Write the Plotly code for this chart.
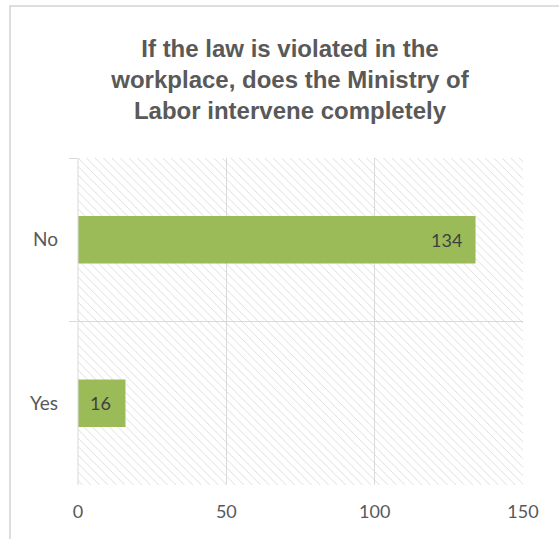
import plotly.graph_objects as go

categories = ["No", "Yes"]
counts = [134, 16]
x_ticks = [0, 50, 100, 150]
x_max = 150
title_text = "<b>If the law is violated in the<br>workplace, does the Ministry of<br>Labor intervene completely</b>"

W, H = 559, 539
L, R, T, B = 78, 523, 158, 485

def px_x(p):
    return (p - L) / (R - L)

def px_y(p):
    return (B - p) / (B - T)

tick_font = dict(family="Lato, Open Sans, sans-serif", size=18, color="#595959")
cat_font = dict(family="Lato, Open Sans, sans-serif", size=19, color="#595959")

fig = go.Figure()

# hatched plot-area background
fig.add_trace(go.Bar(
    y=categories, x=[x_max] * len(categories), orientation="h", width=1,
    marker=dict(color="rgba(0,0,0,0)", line=dict(width=0),
                pattern=dict(shape="\\", fgcolor="#DADADA", bgcolor="rgba(0,0,0,0)",
                             size=6, solidity=0.15, fillmode="replace")),
    hoverinfo="skip", showlegend=False,
))

fig.add_trace(go.Bar(
    y=categories, x=counts, orientation="h", width=0.29,
    marker=dict(color="#9BBB59", line=dict(width=0)),
    showlegend=False,
))

annotations = [
    dict(x=v, y=c, xref="x", yref="y", text=str(v), showarrow=False,
         xanchor="right", yanchor="middle", xshift=-12,
         font=dict(family="Lato, Open Sans, sans-serif", size=18, color="#404040"))
    for c, v in zip(categories, counts)
]

fig.update_layout(
    width=W, height=H,
    margin=dict(l=L, r=W - R, t=T, b=H - B),
    paper_bgcolor="white", plot_bgcolor="white",
    barmode="overlay",
    title=dict(text=title_text, x=290 / W, xanchor="center", y=1 - 57 / H, yanchor="top",
               font=dict(family="Liberation Sans, Arial, sans-serif", size=24, color="#595959")),
    xaxis=dict(range=[0, x_max], tickvals=x_ticks, showgrid=True, gridcolor="#D9D9D9",
               gridwidth=1, zeroline=False, showline=False, ticks="",
               ticklabelstandoff=14, tickfont=tick_font, fixedrange=True),
    yaxis=dict(categoryorder="array", categoryarray=categories, autorange="reversed",
               tickson="boundaries", showgrid=True, gridcolor="#D9D9D9", gridwidth=1,
               ticks="outside", ticklen=8, tickcolor="#D9D9D9", showline=False,
               ticklabelstandoff=19, tickfont=cat_font, fixedrange=True),
    annotations=annotations,
    shapes=[
        dict(type="line", xref="paper", yref="paper", x0=0, x1=0, y0=0, y1=1,
             line=dict(color="#D9D9D9", width=1)),
        dict(type="rect", xref="paper", yref="paper",
             x0=px_x(10), x1=px_x(W + 10), y0=px_y(H + 10), y1=px_y(6),
             line=dict(color="#D4D4D4", width=1.5), fillcolor="rgba(0,0,0,0)", layer="above"),
    ],
)

fig.write_html("out.html")
